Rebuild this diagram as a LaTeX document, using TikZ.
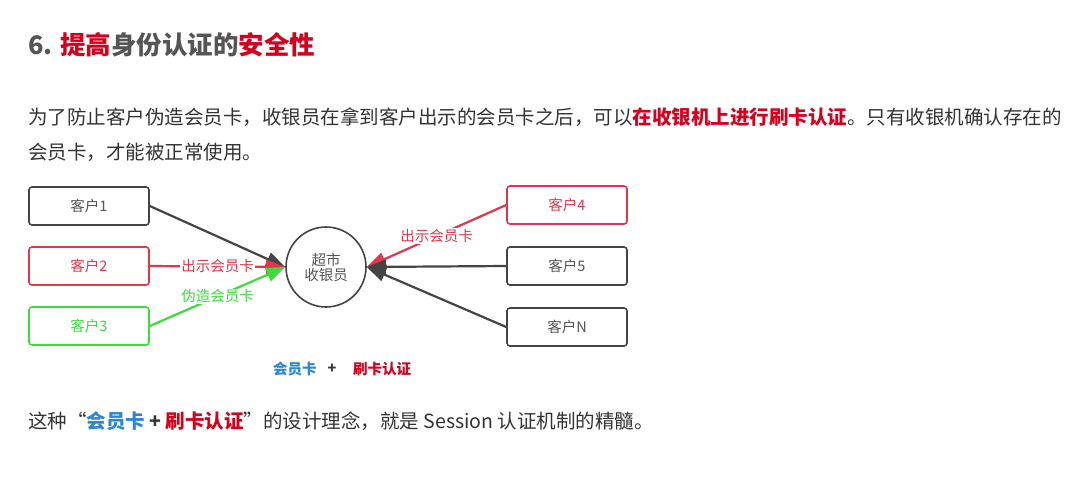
\documentclass[tikz,border=0pt]{standalone}
\usepackage{fontspec}
\setmainfont{Noto Sans CJK SC}
\usetikzlibrary{arrows.meta}
\definecolor{txtgray}{HTML}{333333}
\definecolor{titlegray}{HTML}{555555}
\definecolor{hired}{HTML}{D6001C}
\definecolor{hiblue}{HTML}{2A86D8}
\definecolor{linegray}{HTML}{444444}
\definecolor{boxred}{HTML}{E2374A}
\definecolor{boxgreen}{HTML}{3CDC3C}
\newcommand{\bodyfont}{\fontsize{19.5}{22}\selectfont}
\newcommand{\smallfont}{\fontsize{14.5}{17}\selectfont}
\tikzset{client/.style={draw=linegray,line width=1.6pt,rounded corners=3pt,minimum width=120pt,minimum height=38pt,font=\smallfont,text=titlegray},
  link/.style={line width=2.2pt,draw=linegray,-{Triangle[length=19pt,width=14pt]}},
  tag/.style={fill=white,inner sep=1pt,font=\smallfont},
  line/.style={anchor=west,inner sep=0pt,font=\bodyfont,text=txtgray}}

\begin{document}
\begin{tikzpicture}[x=1pt,y=-1pt]
\useasboundingbox[fill=white] (0,0) rectangle (1073,479);
% texts
\node[anchor=west,inner sep=0pt,font=\fontsize{25.5}{28}\selectfont\bfseries,text=titlegray] (title) at (28,45)
  {6. \textcolor{hired}{提高}身份认证的\textcolor{hired}{安全性}};
\node[line] (par1) at (28,117) {为了防止客户伪造会员卡，收银员在拿到客户出示的会员卡之后，可以\textcolor{hired}{\bfseries 在收银机上进行刷卡认证}。只有收银机确认存在的};
\node[line] (par2) at (28,152) {会员卡，才能被正常使用。};
% clients
\node[client] (c1) at (89,206) {客户1};
\node[client,draw=boxred,text=boxred] (c2) at (89,266) {客户2};
\node[client,draw=boxgreen,text=boxgreen] (c3) at (89,326) {客户3};
\node[client,draw=boxred,text=boxred] (c4) at (567,205) {客户4};
\node[client] (c5) at (567,266) {客户5};
\node[client] (cn) at (567,327) {客户N};
\node[draw=linegray,line width=1.6pt,circle,minimum size=80pt,align=center,font=\smallfont,text=titlegray,inner sep=0pt] (cash) at (326,267) {超市\\[-2pt]收银员};
% arrows
\draw[link] (c1.east) -- (cash.west);
\draw[link,draw=boxred,fill=boxred] (c2.east) -- (cash.west) node[tag,text=boxred,pos=.5] {出示会员卡};
\draw[link,draw=boxgreen,fill=boxgreen] (c3.east) -- (cash.west) node[tag,text=boxgreen,pos=.5] {伪造会员卡};
\draw[link,draw=boxred,fill=boxred] (c4.west) -- (cash.east) node[tag,text=boxred,pos=.5] {出示会员卡};
\draw[link] (c5.west) -- (cash.east);
\draw[link] (cn.west) -- (cash.east);
\node[font=\smallfont\bfseries,text=hiblue,anchor=west,inner sep=0pt] (card) at (273,369) {会员卡};
\node[font=\smallfont\bfseries,text=txtgray] (plus) at (332,369) {+};
\node[font=\smallfont\bfseries,text=hired,anchor=west,inner sep=0pt] (swipe) at (353,369) {刷卡认证};
\node[line] (par3) at (28,421) {这种“\textcolor{hiblue}{\bfseries 会员卡} {\bfseries +} \textcolor{hired}{\bfseries 刷卡认证}”的设计理念，就是 Session 认证机制的精髓。};
\end{tikzpicture}
\end{document}
